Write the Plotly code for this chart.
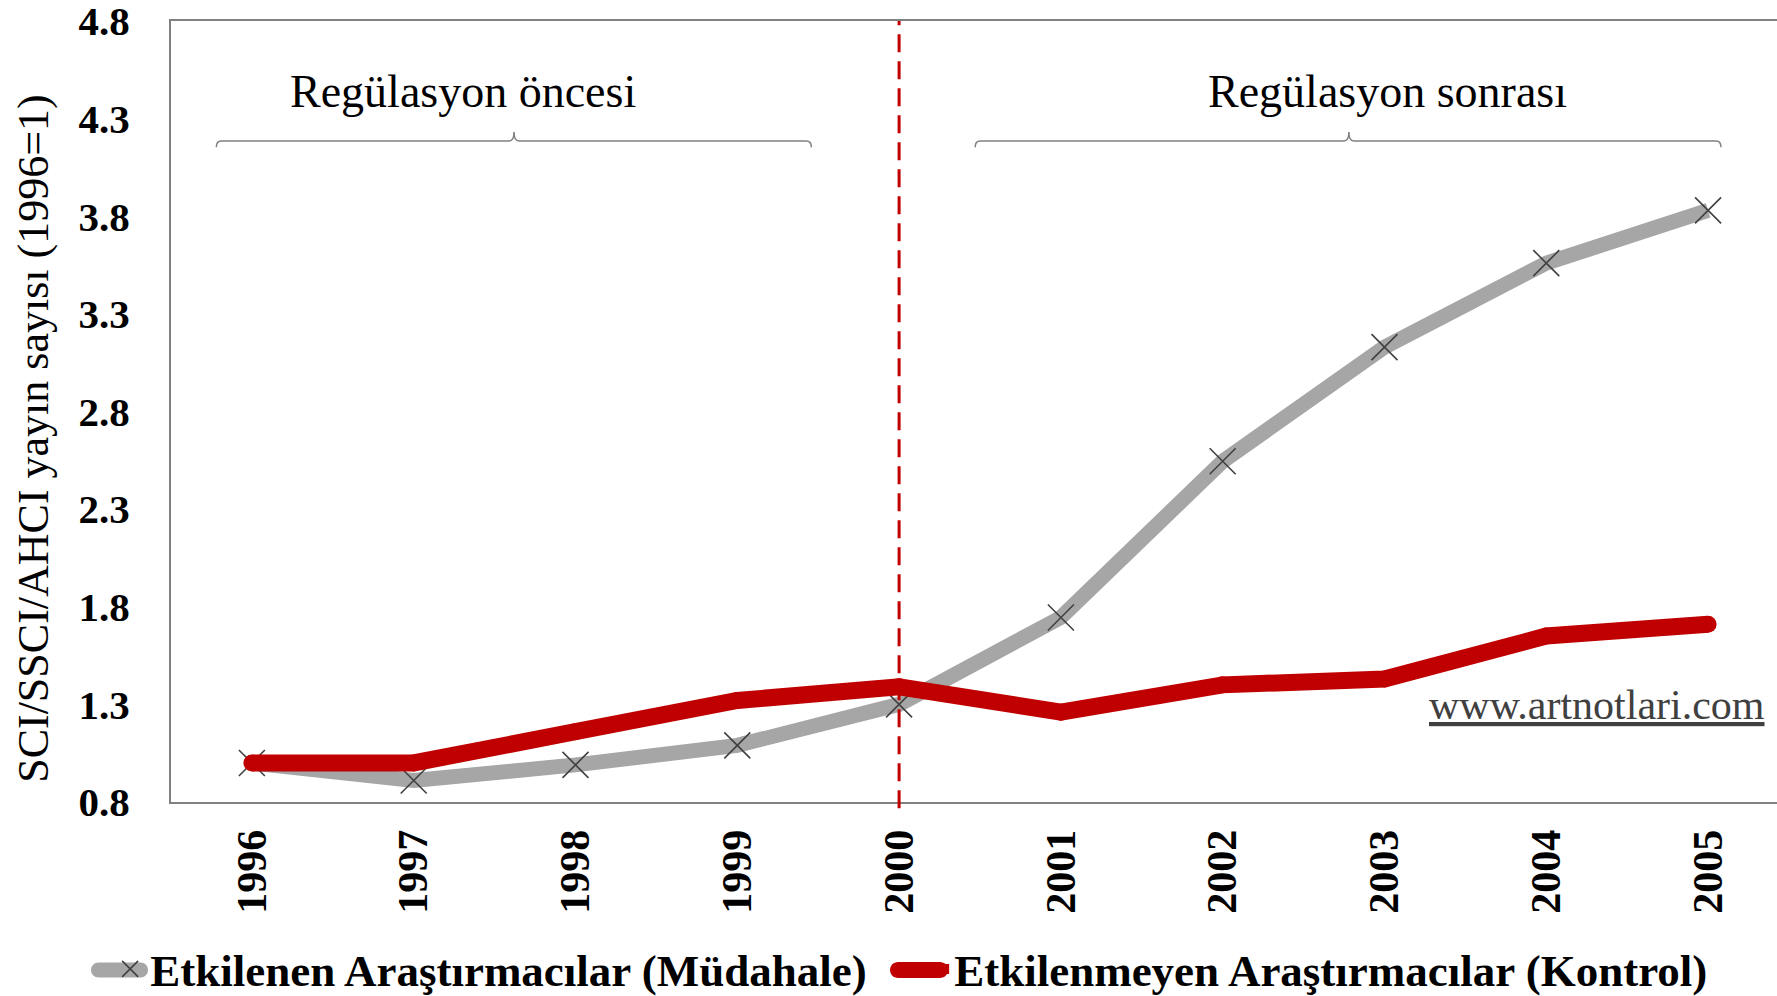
import plotly.graph_objects as go

years = ["1996", "1997", "1998", "1999", "2000", "2001", "2002", "2003", "2004", "2005"]
mudahale = [1.00, 0.91, 0.99, 1.09, 1.30, 1.745, 2.545, 3.13, 3.56, 3.83]
kontrol = [1.00, 1.00, 1.16, 1.32, 1.39, 1.26, 1.40, 1.43, 1.65, 1.71]
y_ticks = [0.8, 1.3, 1.8, 2.3, 2.8, 3.3, 3.8, 4.3, 4.8]
name_mud = "Etkilenen Araştırmacılar (Müdahale)"
name_kon = "Etkilenmeyen Araştırmacılar (Kontrol)"
regulation_year = "2000"

FONT = "Liberation Serif"
GRAY = "#A6A6A6"
RED = "#C00000"

W, H = 1777, 996
ML, MR, MT, MB = 171, 0, 21, 194
PW, PH = W - ML - MR, H - MT - MB


def px2paper(px, py):
    return (px - ML) / PW, (H - MB - py) / PH


def rounded_bar(x0, x1, yc, h):
    r = h / 2.0
    k = 0.5523 * r
    pts = [
        ("M", [(x0 + r, yc - r)]),
        ("L", [(x1 - r, yc - r)]),
        ("C", [(x1 - r + k, yc - r), (x1, yc - k), (x1, yc)]),
        ("C", [(x1, yc + k), (x1 - r + k, yc + r), (x1 - r, yc + r)]),
        ("L", [(x0 + r, yc + r)]),
        ("C", [(x0 + r - k, yc + r), (x0, yc + k), (x0, yc)]),
        ("C", [(x0, yc - k), (x0 + r - k, yc - r), (x0 + r, yc - r)]),
    ]
    out = []
    for cmd, ps in pts:
        coords = " ".join("%.5f,%.5f" % px2paper(a, b) for a, b in ps)
        out.append(cmd + " " + coords)
    return " ".join(out) + " Z"


fig = go.Figure()
fig.add_trace(go.Scatter(
    x=years, y=mudahale, name=name_mud, mode="lines+markers",
    line=dict(color=GRAY, width=15),
    marker=dict(symbol="x-thin", size=26, color="#404040",
                line=dict(color="#404040", width=1.6)),
))
fig.add_trace(go.Scatter(
    x=years, y=kontrol, name=name_kon, mode="lines",
    line=dict(color=RED, width=17),
))
# round joins / caps for the red series
fig.add_trace(go.Scatter(
    x=years, y=kontrol, mode="markers", showlegend=False, hoverinfo="skip",
    marker=dict(symbol="circle", size=17, color=RED, line=dict(width=0)),
))

reg_idx = years.index(regulation_year)

# vertical dashed line at regulation year
fig.add_shape(type="line", xref="x", yref="paper", x0=reg_idx, x1=reg_idx,
              y0=-0.008, y1=1, line=dict(color=RED, width=3, dash="18px,9px"),
              layer="above")


def bracket(x0, x1, xc, yb, yend, ytop):
    d = 0.03
    return (f"M {x0},{yend} Q {x0},{yb} {x0+d},{yb} L {xc-d},{yb} "
            f"Q {xc},{yb} {xc},{ytop} Q {xc},{yb} {xc+d},{yb} "
            f"L {x1-d},{yb} Q {x1},{yb} {x1},{yend}")


fig.add_shape(type="path", xref="x", yref="y",
              path=bracket(-0.22, 3.458, 1.62, 4.186, 4.153, 4.232),
              line=dict(color="#808080", width=1.5))
fig.add_shape(type="path", xref="x", yref="y",
              path=bracket(4.47, 9.08, 6.78, 4.186, 4.153, 4.232),
              line=dict(color="#808080", width=1.5))

# thick legend keys (behind the legend's own symbols)
fig.add_shape(type="path", xref="paper", yref="paper", path=rounded_bar(91, 148, 970, 15),
              fillcolor=GRAY, line=dict(width=0), layer="above")
fig.add_shape(type="path", xref="paper", yref="paper", path=rounded_bar(890, 948, 970, 16),
              fillcolor=RED, line=dict(width=0), layer="above")

fig.add_annotation(x=1.307, y=4.44, xref="x", yref="y", text="Regülasyon öncesi",
                   showarrow=False, xanchor="center", yanchor="middle",
                   font=dict(family=FONT, size=46, color="#000000"))
fig.add_annotation(x=7.02, y=4.44, xref="x", yref="y", text="Regülasyon sonrası",
                   showarrow=False, xanchor="center", yanchor="middle",
                   font=dict(family=FONT, size=46, color="#000000"))

fig.add_annotation(x=0.994, y=0.1245, xref="paper", yref="paper", xanchor="right",
                   yanchor="middle", text="<u>www.artnotlari.com</u>", showarrow=False,
                   font=dict(family=FONT, size=42, color="#404040"))

fig.add_annotation(x=-0.0853, y=0.465, xref="paper", yref="paper", xanchor="center",
                   yanchor="middle",
                   text="SCI/SSCI/AHCI yayın sayısı (1996=1)", textangle=-90,
                   showarrow=False, font=dict(family=FONT, size=44, color="#000000"))

fig.update_layout(
    width=W, height=H,
    margin=dict(l=ML, r=MR, t=MT, b=MB, autoexpand=False),
    plot_bgcolor="white", paper_bgcolor="white",
    font=dict(family=FONT, color="#000000"),
    showlegend=True,
    legend=dict(orientation="h", x=-0.0379, y=-0.214, xanchor="left", yanchor="middle",
                font=dict(family=FONT, size=45, color="#000000", weight="bold"),
                bgcolor="rgba(0,0,0,0)", itemwidth=30, traceorder="normal",
                entrywidth=759, entrywidthmode="pixels"),
    xaxis=dict(type="category", range=[-0.5, 9.426], showgrid=False,
               showline=True, linecolor="#808080", linewidth=2, mirror=True,
               ticks="", tickangle=-90, ticklabelstandoff=9,
               tickfont=dict(family=FONT, size=42, color="#000000", weight="bold")),
    yaxis=dict(range=[0.8, 4.8], tickvals=y_ticks, tickformat=".1f", showgrid=False,
               showline=True, linecolor="#808080", linewidth=2, zeroline=False,
               ticks="", ticklabelstandoff=31, ticklabeloverflow="allow",
               tickfont=dict(family=FONT, size=41, color="#000000", weight="bold")),
)

fig.write_html("out.html", config={"displayModeBar": False},
               post_script="document.body.style.margin='0';")
